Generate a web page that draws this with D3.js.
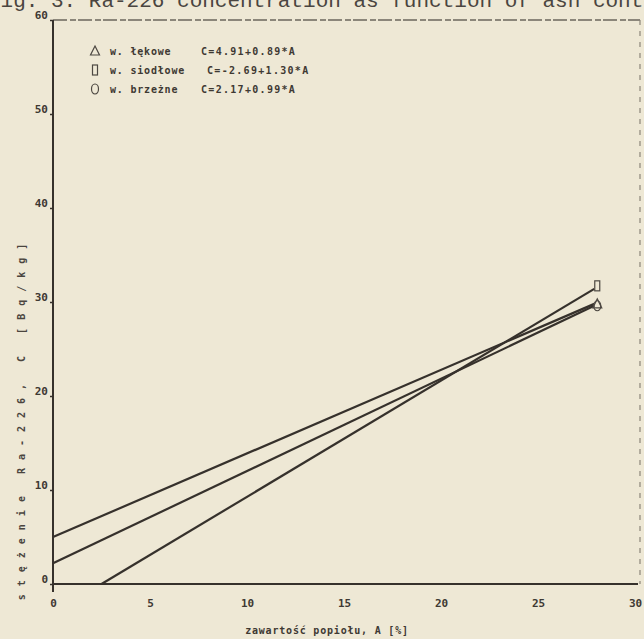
<!DOCTYPE html>
<html><head><meta charset="utf-8">
<script src="https://cdn.jsdelivr.net/npm/d3@7"></script>
<style>
html,body{margin:0;padding:0;background:#eee8d5;}
svg{display:block;}
</style></head>
<body>
<script>
// ---- data ----
const seriesNames = ["w. łękowe", "w. siodłowe", "w. brzeżne"];
const equations = ["C=4.91+0.89*A", "C=-2.69+1.30*A", "C=2.17+0.99*A"];
const symbols = ["triangle", "square", "circle"];
// drawn regression lines: [A, C] endpoints as they appear in the plot
const lekoweLine = [[0, 5.0], [27.9, 29.8]];
const siodloweLine = [[2.5, 0], [27.9, 31.4]];
const brzezneLine = [[0, 2.2], [27.9, 29.6]];
const xTicks = [0, 5, 10, 15, 20, 25, 30];
const yTicks = [0, 10, 20, 30, 40, 50, 60];
const titleText = "Fig. 3. Ra-226 concentration as function of ash content";
const xLabel = "zawartość popiołu, A [%]";
const yLabel = "stężenie Ra-226, C [Bq/kg]";

const W = 644, H = 639;
const ink = "#36312c";
const svg = d3.select("body").append("svg").attr("width", W).attr("height", H);
svg.append("rect").attr("width", W).attr("height", H).attr("fill", "#eee8d5");

const x = d3.scaleLinear().domain([0, 30]).range([53, 635]);
const y = d3.scaleLinear().domain([0, 60]).range([584, 20]);

// title (cut off at top, as in the scan)
svg.append("text").attr("x", -12).attr("y", 7)
  .attr("font-family", "Liberation Mono, monospace").attr("font-size", 21)
  .attr("fill", "#4a4540").text(titleText);

const dotFont = "DejaVu Sans Mono, monospace";

// top border (dashed) and right border (dashed)
svg.append("line").attr("x1", x(0)).attr("x2", 640).attr("y1", y(60)).attr("y2", y(60))
  .attr("stroke", "#6b655c").attr("stroke-width", 1.3).attr("stroke-dasharray", "14,3,6,2");
svg.append("line").attr("x1", 640).attr("x2", 640).attr("y1", y(60)).attr("y2", y(0))
  .attr("stroke", "#8c857a").attr("stroke-width", 1.2).attr("stroke-dasharray", "5,6");

// axes
const xAxis = d3.axisBottom(x).tickValues(xTicks).tickSize(0).tickFormat(d3.format("d"));
const gx = svg.append("g").attr("transform", `translate(0,${y(0)})`).call(xAxis);
gx.select(".domain").attr("stroke", ink).attr("stroke-width", 2).attr("d", `M${x(0)},0H638`);
gx.selectAll("text").attr("font-family", dotFont).attr("font-weight", "bold")
  .attr("font-size", 11).attr("fill", "#3e3933").attr("dy", 0).attr("y", 23);

const yAxis = d3.axisLeft(y).tickValues(yTicks).tickSize(3).tickFormat(d3.format("d"));
const gy = svg.append("g").attr("transform", `translate(${x(0)},0)`).call(yAxis);
gy.select(".domain").attr("stroke", ink).attr("stroke-width", 2).attr("d", `M0,${y(60)}V592`);
gy.selectAll(".tick line").attr("stroke", ink).attr("stroke-width", 1.5);
gy.selectAll("text").attr("font-family", dotFont).attr("font-weight", "bold")
  .attr("font-size", 11).attr("fill", "#3e3933").attr("x", -5).attr("dy", "-0.1em");

// axis titles
svg.append("text").attr("x", 327).attr("y", 634).attr("text-anchor", "middle")
  .attr("font-family", dotFont).attr("font-size", 10).attr("font-weight", "bold")
  .attr("letter-spacing", 0.8).attr("fill", "#3e3933").text(xLabel);
svg.append("text").attr("transform", "translate(25,418) rotate(-90)").attr("text-anchor", "middle")
  .attr("font-family", dotFont).attr("font-size", 10).attr("font-weight", "bold")
  .attr("letter-spacing", 8).attr("fill", "#4a453f").text(yLabel);

// regression lines
const lines = [lekoweLine, siodloweLine, brzezneLine];
const lineGen = d3.line().x(d => x(d[0])).y(d => y(d[1]));
svg.append("g").selectAll("path").data(lines).join("path")
  .attr("d", lineGen).attr("fill", "none").attr("stroke", ink).attr("stroke-width", 2.2);

// symbol drawer
function drawSymbol(g, type, cx, cy) {
  const s = g.append("g").attr("fill", "none").attr("stroke", "#4d4842").attr("stroke-width", 1.2);
  if (type === "triangle") s.append("path").attr("d", `M${cx},${cy - 5}L${cx + 4.5},${cy + 4}L${cx - 4.5},${cy + 4}Z`);
  else if (type === "square") s.append("rect").attr("x", cx - 2.5).attr("y", cy - 5).attr("width", 5).attr("height", 10);
  else s.append("ellipse").attr("cx", cx).attr("cy", cy).attr("rx", 3.5).attr("ry", 5);
}

// end markers
const mg = svg.append("g");
lines.forEach((ln, i) => {
  const e = ln[ln.length - 1];
  drawSymbol(mg, symbols[i], x(e[0]) + 3, y(e[1]) - (i === 1 ? 3 : 0));
});

// legend
const lg = svg.append("g");
seriesNames.forEach((n, i) => {
  const cy = 51 + i * 19;
  drawSymbol(lg, symbols[i], 95, cy);
  lg.append("text").attr("x", 110).attr("y", cy + 4)
    .attr("font-family", dotFont).attr("font-size", 10).attr("font-weight", "bold")
    .attr("letter-spacing", 0.8).attr("fill", "#3e3933").text(n);
  lg.append("text").attr("x", i === 1 ? 207 : 201).attr("y", cy + 4)
    .attr("font-family", dotFont).attr("font-size", 10).attr("font-weight", "bold")
    .attr("letter-spacing", 1.3).attr("fill", "#3e3933").text(equations[i]);
});
</script>
</body></html>
